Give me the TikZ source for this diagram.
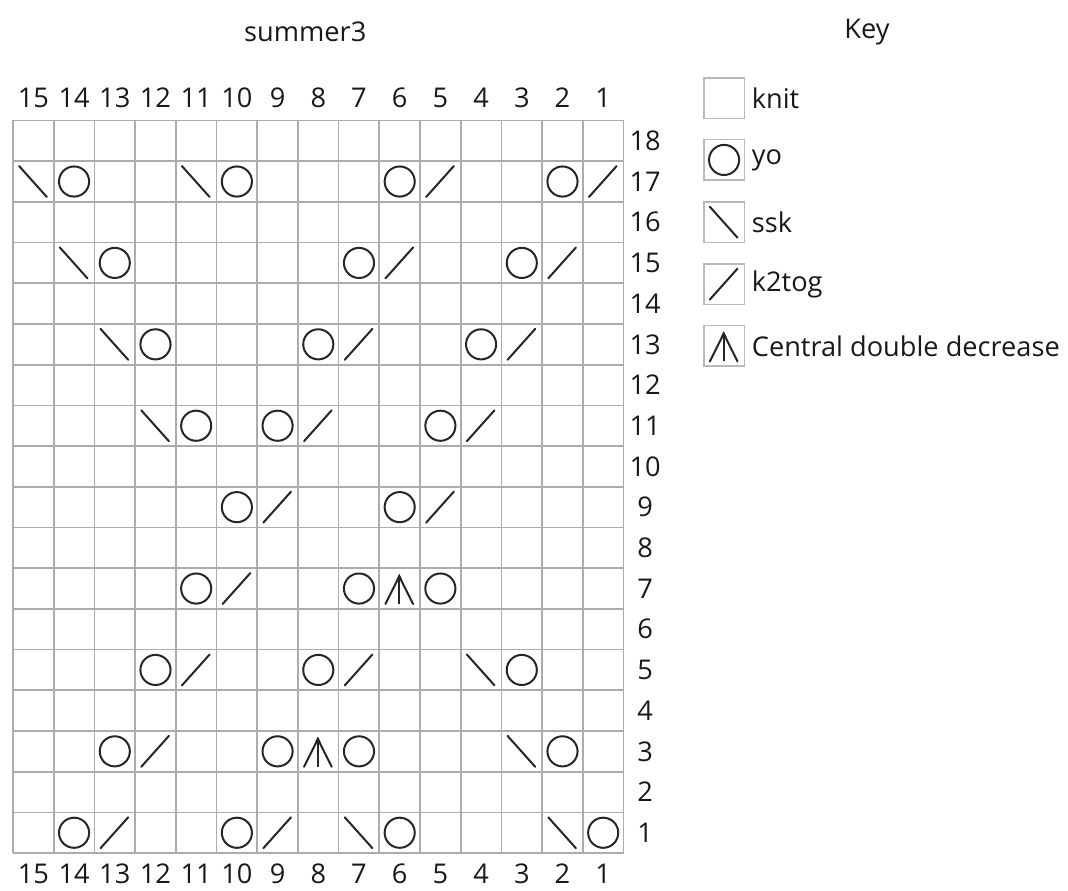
\documentclass[tikz,border=0pt]{standalone}
\usepackage{fontspec}
\setmainfont{Open Sans}
\usepackage{xcolor}
\usetikzlibrary{arrows.meta}

\begin{document}
\begin{tikzpicture}[
    x=1cm, y=1cm,
    gridline/.style={draw=gray!65, line width=1.2pt},
    symline/.style={draw=black!85, line width=1.4pt, line cap=round},
    cell/.style={rectangle, minimum size=1cm, inner sep=0pt},
    keybox/.style={cell, draw=gray!55, line width=1.2pt},
    yo/.style={cell, path picture={\draw[symline] (path picture bounding box.center) circle (0.37);}},
    ssk/.style={cell, path picture={\draw[symline] ([shift={(-0.35,0.38)}]path picture bounding box.center) -- ([shift={(0.33,-0.38)}]path picture bounding box.center);}},
    ktog/.style={cell, path picture={\draw[symline] ([shift={(-0.35,-0.38)}]path picture bounding box.center) -- ([shift={(0.33,0.38)}]path picture bounding box.center);}},
    cdd/.style={cell, path picture={
        \draw[symline] ([shift={(-0.35,-0.38)}]path picture bounding box.center) -- ([shift={(-0.01,0.3)}]path picture bounding box.center) -- ([shift={(0.33,-0.38)}]path picture bounding box.center);
        \draw[symline, line cap=butt, -{Stealth[length=4pt,width=4pt]}] ([shift={(-0.01,-0.38)}]path picture bounding box.center) -- ([shift={(-0.01,0.36)}]path picture bounding box.center);}},
    lbl/.style={font=\fontsize{19}{23}\selectfont, text=black!90, inner sep=1pt},
    keylabel/.style={lbl, anchor=west}
]
\useasboundingbox (-0.32,-0.91) rectangle (25.92,20.96);

% Titles
\node[lbl] (title) at (7.18,20.17) {summer3};
\node[lbl] (keytitle) at (20.98,20.17) {Key};

% Chart grid
\draw[gridline] (0,0) grid (15,18);

% Column and row numbers
\foreach \c in {1,...,15} {
    \node[lbl] (top\c) at (15.5-\c,18.55) {\c};
    \node[lbl] (bot\c) at (15.5-\c,-0.5) {\c};
}
\foreach \r in {1,...,18}
    \node[lbl] (row\r) at (15.53,\r-0.5) {\r};

% Stitches - yo
\foreach \r/\c in {17/14,17/10,17/6,17/2, 15/13,15/7,15/3, 13/12,13/8,13/4, 11/11,11/9,11/5,
                   9/10,9/6, 7/11,7/7,7/5, 5/12,5/8,5/3, 3/13,3/9,3/7,3/2, 1/14,1/10,1/6,1/1}
    \node[yo] (yo-\r-\c) at (15.5-\c,\r-0.5) {};

% Stitches - ssk
\foreach \r/\c in {17/15,17/11, 15/14, 13/13, 11/12, 5/4, 3/3, 1/7,1/2}
    \node[ssk] (ssk-\r-\c) at (15.5-\c,\r-0.5) {};

% Stitches - k2tog
\foreach \r/\c in {17/5,17/1, 15/6,15/2, 13/7,13/3, 11/8,11/4, 9/9,9/5, 7/10, 5/11,5/7, 3/12, 1/13,1/9}
    \node[ktog] (ktog-\r-\c) at (15.5-\c,\r-0.5) {};

% Stitches - central double decrease
\node[cdd] (cdd-7-6) at (9.5,6.5) {};
\node[cdd] (cdd-3-8) at (7.5,2.5) {};

% Key
\node[keybox] (keyknit) at (17.47,18.55) {};
\node[keylabel] at ([xshift=0.12cm]keyknit.east) {knit};
\node[keybox, yo] (keyyo) at (17.47,17.03) {};
\node[keylabel] at ([xshift=0.12cm]keyyo.east) {yo};
\node[keybox, ssk] (keyssk) at (17.47,15.50) {};
\node[keylabel] at ([xshift=0.12cm]keyssk.east) {ssk};
\node[keybox, ktog] (keyktog) at (17.47,13.98) {};
\node[keylabel] at ([xshift=0.12cm]keyktog.east) {k2tog};
\node[keybox, cdd] (keycdd) at (17.47,12.46) {};
\node[keylabel] at ([xshift=0.12cm]keycdd.east) {Central double decrease};

\end{tikzpicture}
\end{document}
